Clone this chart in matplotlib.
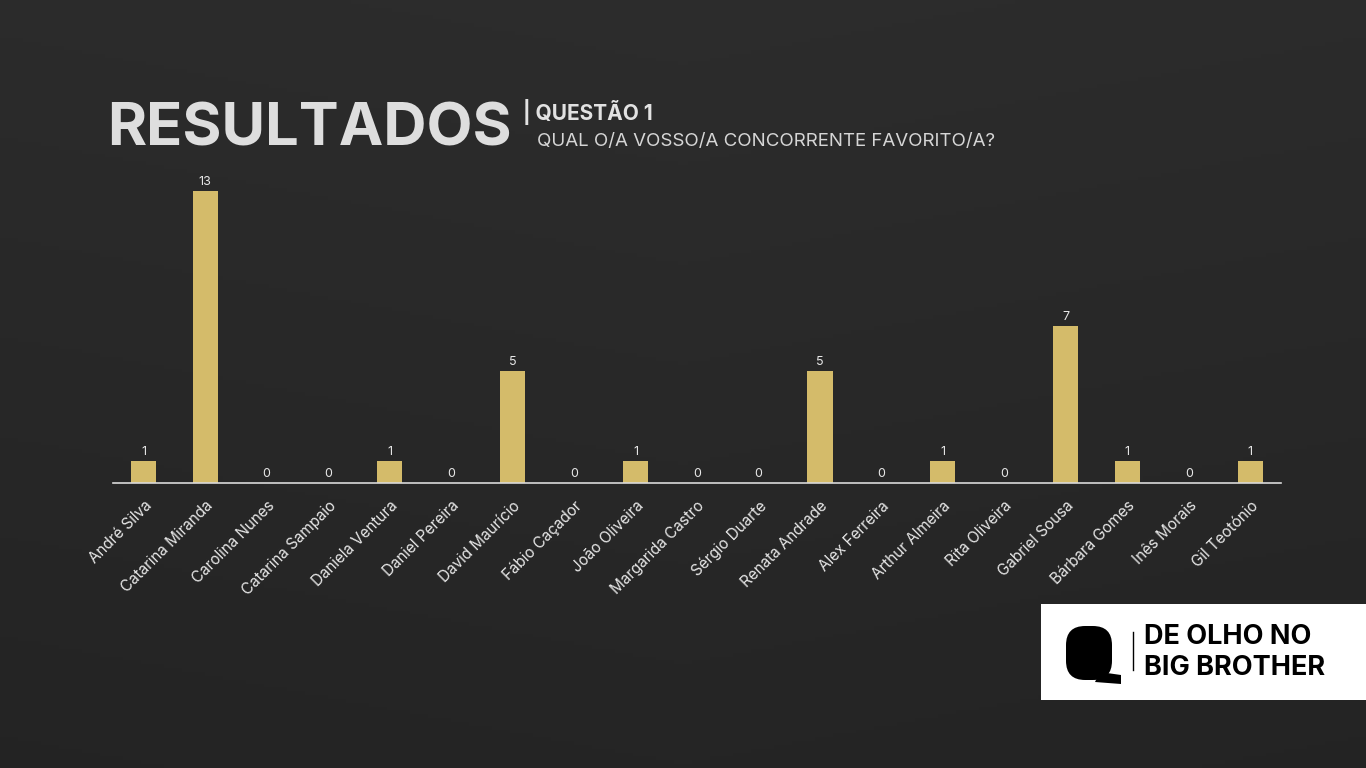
import matplotlib
matplotlib.use("Agg")
import matplotlib.pyplot as plt
from matplotlib.patches import Rectangle, FancyBboxPatch, Polygon
import numpy as np

names = ["André Silva", "Catarina Miranda", "Carolina Nunes", "Catarina Sampaio",
         "Daniela Ventura", "Daniel Pereira", "David Maurício", "Fábio Caçador",
         "João Oliveira", "Margarida Castro", "Sérgio Duarte", "Renata Andrade",
         "Alex Ferreira", "Arthur Almeira", "Rita Oliveira", "Gabriel Sousa",
         "Bárbara Gomes", "Inês Morais", "Gil Teotónio"]
votes = [1, 13, 0, 0, 1, 0, 5, 0, 1, 0, 0, 5, 0, 1, 0, 7, 1, 0, 1]

title = "RESULTADOS"
subtitle1 = "| QUESTÃO 1"
subtitle2 = "QUAL O/A VOSSO/A CONCORRENTE FAVORITO/A?"
logo_lines = ["DE OLHO NO", "BIG BROTHER"]

FONT = ["Inter", "DejaVu Sans"]
plt.rcParams['font.family'] = FONT

W, H = 1366, 768
fig = plt.figure(figsize=(W/100, H/100), dpi=100)
fig.patch.set_facecolor("#2a2a2a")

# subtle background vignette
bg = fig.add_axes([0, 0, 1, 1], zorder=-10)
yy, xx = np.mgrid[0:1:200j, 0:1:300j]
shade = 0.175 - 0.03 * yy - 0.01 * np.abs(xx - 0.5)
bg.imshow(np.dstack([shade, shade, shade]), extent=[0, 1, 0, 1], aspect='auto', origin='upper')
bg.set_axis_off()

ax = fig.add_axes([113/W, 1 - 483/H, (1281-113)/W, (483-191)/H])
ax.set_facecolor("none")
x = np.arange(len(names))
bars = ax.bar(x, votes, width=0.41, color="#d4bb6a", zorder=2)
ax.set_xlim(-0.5, len(names) - 0.5)
ax.set_ylim(0, 13)
for xi, v in zip(x, votes):
    ax.annotate(str(v), (xi, v), xytext=(0, 4), textcoords="offset points",
                ha="center", va="baseline", color="#e8e8e8", fontsize=9,
                annotation_clip=False)
for s in ["top", "right", "left"]:
    ax.spines[s].set_visible(False)
ax.spines["bottom"].set_color("#d9d9d9")
ax.spines["bottom"].set_linewidth(1.2)
ax.set_yticks([])
ax.set_xticks(x)
ax.set_xticklabels(names, rotation=45, ha="right", rotation_mode="anchor",
                   color="#e6e6e6", fontsize=11)
ax.tick_params(axis="x", length=0, pad=11)

# titles
fig.text(107/W, 1 - 146/H, title, color="#dedede", fontsize=43, fontweight="bold",
         ha="left", va="baseline")
fig.text(523/W, 1 - 120/H, subtitle1, color="#e2e2e2", fontsize=15, fontweight="bold",
         ha="left", va="baseline")
fig.text(537/W, 1 - 146/H, subtitle2, color="#d6d6d6", fontsize=13.5,
         ha="left", va="baseline")

# logo box
fig.patches.append(Rectangle((1041/W, 1 - 700/H), (W-1041)/W, 96/H,
                             transform=fig.transFigure, facecolor="white",
                             edgecolor="none", zorder=5))
fig.patches.append(FancyBboxPatch((1066/W, 1 - 680/H), 46/W, 54/H,
                                  boxstyle="round,pad=0,rounding_size=0.014",
                                  transform=fig.transFigure, facecolor="black",
                                  edgecolor="none", zorder=6, mutation_aspect=W/H))
fig.patches.append(Polygon([(1100/W, 1-672/H), (1121/W, 1-675/H), (1121/W, 1-684/H),
                            (1095/W, 1-682/H)], closed=True,
                           transform=fig.transFigure, facecolor="black",
                           edgecolor="none", zorder=6))
fig.lines.append(plt.Line2D([1133/W, 1133/W], [1-632/H, 1-670/H],
                            transform=fig.transFigure, color="black", lw=1, zorder=6))
fig.text(1144/W, 1 - 644/H, logo_lines[0], color="black", fontsize=19.5,
         fontweight="bold", ha="left", va="baseline", zorder=7)
fig.text(1144/W, 1 - 675/H, logo_lines[1], color="black", fontsize=19.5,
         fontweight="bold", ha="left", va="baseline", zorder=7)

fig.savefig("out.png", dpi=100, facecolor=fig.get_facecolor())
